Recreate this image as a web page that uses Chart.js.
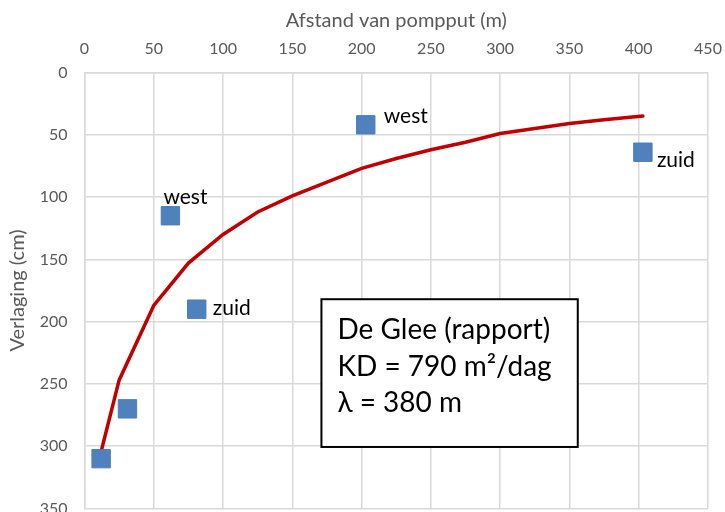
<!DOCTYPE html>
<html>
<head>
<meta charset="utf-8">
<script src="https://cdn.jsdelivr.net/npm/chart.js@4/dist/chart.umd.min.js"></script>
<style>
html,body{margin:0;padding:0;background:#fff;overflow:hidden;}
#wrap{width:725px;height:530px;}
</style>
</head>
<body>
<div id="wrap"><canvas id="c" width="725" height="530"></canvas></div>
<script>
// ---- data ----
const curveX = [12.5, 25, 50, 75, 100, 125, 150, 175, 200, 225, 250, 275, 300, 325, 350, 375, 403];
const curveY = [302, 247, 187, 153, 130, 112, 99, 88, 77, 69, 62, 56, 49, 45, 41, 38, 35];
const obsX = [12, 31, 62, 81, 203, 403];
const obsY = [310, 270, 115, 190, 42, 64];
const obsLabels = ['', '', 'west', 'zuid', 'west', 'zuid'];
const xTicks = [0, 50, 100, 150, 200, 250, 300, 350, 400, 450];
const yTicks = [0, 50, 100, 150, 200, 250, 300, 350];
const xTitle = 'Afstand van pompput (m)';
const yTitle = 'Verlaging (cm)';
const boxLines = ['De Glee (rapport)', 'KD = 790 m²/dag', 'λ = 380 m'];

const FONT = 'Lato, "Open Sans", sans-serif';
const GRAY = '#595959';
const GRID = '#D9D9D9';

// label offsets (px from point centre): [dx to left edge, dy to baseline]
const labelOffsets = [null, null, [-7, -12], [16, 6], [18, -2], [14, 15]];

const labelPlugin = {
  id: 'obsLabels',
  afterDatasetsDraw(chart) {
    const ctx = chart.ctx;
    const meta = chart.getDatasetMeta(0);
    ctx.save();
    ctx.font = '21px ' + FONT;
    ctx.fillStyle = '#000';
    ctx.textAlign = 'left';
    ctx.textBaseline = 'alphabetic';
    meta.data.forEach((el, i) => {
      const t = obsLabels[i];
      if (!t) return;
      const o = labelOffsets[i];
      ctx.fillText(t, el.x + o[0], el.y + o[1]);
    });
    ctx.restore();
  }
};

const boxPlugin = {
  id: 'infoBox',
  afterDatasetsDraw(chart) {
    const ctx = chart.ctx;
    const xs = chart.scales.x, ys = chart.scales.y;
    const l = xs.getPixelForValue(171), r = xs.getPixelForValue(356);
    const t = ys.getPixelForValue(182), b = ys.getPixelForValue(300.6);
    ctx.save();
    ctx.fillStyle = '#fff';
    ctx.fillRect(l, t, r - l, b - t);
    ctx.lineWidth = 2;
    ctx.strokeStyle = '#000';
    ctx.strokeRect(l, t, r - l, b - t);
    ctx.fillStyle = '#000';
    ctx.font = '28px ' + FONT;
    ctx.textAlign = 'left';
    ctx.textBaseline = 'alphabetic';
    boxLines.forEach((s, i) => {
      ctx.fillText(s, l + 16, t + 40 + i * 36.5);
    });
    ctx.restore();
  }
};

new Chart(document.getElementById('c'), {
  type: 'scatter',
  data: {
    datasets: [
      {
        label: 'metingen',
        data: obsX.map((x, i) => ({x: x, y: obsY[i]})),
        pointStyle: 'rect',
        pointRadius: 13,
        pointHoverRadius: 13,
        backgroundColor: '#4F81BD',
        borderColor: '#4A7EBB',
        borderWidth: 1,
        showLine: false
      },
      {
        label: 'De Glee',
        data: curveX.map((x, i) => ({x: x, y: curveY[i]})),
        showLine: true,
        borderColor: '#C00000',
        borderWidth: 3.5,
        borderCapStyle: 'round',
        pointRadius: 0,
        tension: 0,
        fill: false
      }
    ]
  },
  options: {
    responsive: false,
    animation: false,
    layout: { padding: { left: 0, top: 0, right: 17, bottom: 21.5 } },
    plugins: { legend: { display: false }, tooltip: { enabled: false } },
    scales: {
      x: {
        type: 'linear',
        position: 'top',
        min: 0, max: 450,
        afterBuildTicks(s) { s.ticks = xTicks.map(v => ({value: v})); },
        afterFit(s) { s.height = 72.5; s.paddingLeft = 0; s.paddingRight = 0; },
        ticks: { color: GRAY, font: { family: FONT, size: 16 }, padding: 14, maxRotation: 0 },
        grid: { color: GRID, lineWidth: 1.5, drawTicks: false },
        border: { color: GRID, width: 1.5 },
        title: { display: true, text: xTitle, color: GRAY, font: { family: FONT, size: 20 }, padding: { top: 9, bottom: 0 } }
      },
      y: {
        type: 'linear',
        reverse: true,
        min: 0, max: 350,
        afterBuildTicks(s) { s.ticks = yTicks.map(v => ({value: v})); },
        afterFit(s) { s.width = 84.5; s.paddingTop = 0; s.paddingBottom = 0; },
        ticks: { color: GRAY, font: { family: FONT, size: 16 }, padding: 17 },
        grid: { color: GRID, lineWidth: 1.5, drawTicks: false },
        border: { color: GRID, width: 1.5 },
        title: { display: true, text: yTitle, color: GRAY, font: { family: FONT, size: 20 }, padding: { top: 6, bottom: 0 } }
      }
    }
  },
  plugins: [labelPlugin, boxPlugin]
});
</script>
</body>
</html>
